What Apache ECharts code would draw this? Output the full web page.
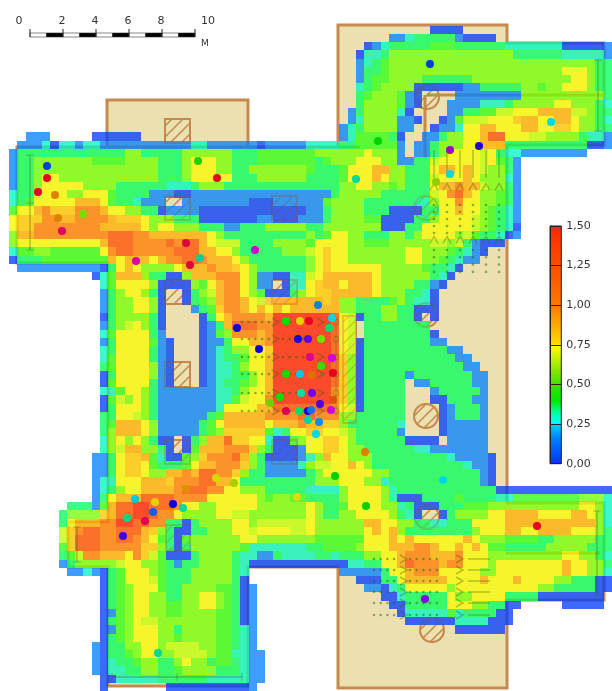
<!DOCTYPE html>
<html><head><meta charset="utf-8">
<style>html,body{margin:0;padding:0;background:#fff}#c{width:612px;height:691px}</style>
<script src="https://cdn.jsdelivr.net/npm/echarts@6/dist/echarts.min.js"></script>
</head><body><div id="c"></div>
<script>
const levelValues = {a:.02,b:.15,c:.29,d:.37,e:.47,f:.55,g:.63,h:.71,i:.8,j:.88,k:1.02,l:1.18,m:1.5};
const colorRamp = ['#0030ff','#0060ff','#00a0ff','#00ffb8','#00ff30','#40ff00','#a8ff00','#f8ff00','#ffc800','#ffa800','#ff8000','#ff6000','#ff4800','#ff3800','#ff2c00','#ff1c00'];
const legendStops = [[0,'#0030ff'],[.16,'#0080ff'],[.24,'#00c8ff'],[.26,'#00ffff'],[.33,'#00ff90'],[.4,'#00e800'],[.5,'#40e000'],[.6,'#90e800'],[.74,'#ffff00'],[.76,'#ffd800'],[1,'#ff7800'],[1.25,'#ff4c00'],[1.5,'#ff2800']];
const legendTicks = ['0,00','0,25','0,50','0,75','1,00','1,25','1,50'];
const scaleLabels = [[19,'0'],[62,'2'],[95,'4'],[128,'6'],[161,'8'],[208,'10']];
// one row per 8.28px strip of the floor: "col:" jumps to a column, letter+count is a run of that level
const heatRows = [
"51: a4",
"46: b2 c1 d5 b1 a4",
"43: a1 b1 c1 d5 e3 d6 c7 a5 b1",
"42: a1 c2 d1 f15 d6 c5 b1",
"42: b1 c1 d1 e1 f25 d2",
"42: b1 d2 e1 f21 h3 f1 d2",
"42: b1 d1 e2 f4 d6 f12 h2 f1 d2",
"42: c1 d1 e1 f3 f1 a6 b2 d5 f2 e1 f2 h3 f1 d2",
"42: d1 e1 f3 e1 b1 a1 54: b8 f10 d1",
"42: d1 f4 e1 b1 a1 53: b4 c3 d1 f5 h2 f3 d1 c1",
"41: b1 d1 f4 c1 a1 53: b2 d2 e2 g2 h3 j4 g2 f1 d2",
"41: b1 c1 f4 b2 a1 52: a1 b1 e1 g3 h3 i1 j2 h2 j2 h1 f2 d1 c1",
"40: b1 c1 d1 f4 b2 51: a1 b2 c1 h2 j2 h3 j2 h2 i2 h1 f2 d2",
"2: b3 10: a6 40: b1 c1 e4 d1 a1 50: b2 d1 f2 h2 j1 l2 h3 g2 f4 d1 c2 b1",
"1: b3 c1 a1 c2 b1 c2 b11 c2 b6 a1 b5 c4 d2 e5 b1 49: b2 d1 f3 h2 j3 d10 a2 b1",
"0: b1 d13 f2 d5 f6 d3 e7 f6 h1 f3 b1 49: b2 d1 f1 h4 g1 h1 d1 c2 b8",
"0: b1 d2 f7 e4 f4 d3 f1 h3 f2 d3 e7 d1 e1 f3 h3 f2 b2 d2 g1 h5 g1 h1 e1 d1 b1",
"0: b1 d2 f15 d3 f1 h3 f2 d2 f7 e1 d3 e1 h3 j2 f2 d3 h1 j2 h1 j1 h1 g1 f2 d1 b1",
"0: b1 d2 f1 h2 f12 d3 f1 h5 d3 f6 d4 e1 h3 j1 h1 f2 d3 g1 h3 j1 h1 f3 c1 b1",
"0: b1 d2 f1 h5 f4 d6 c3 d1 f3 d14 f2 h2 f2 e1 f1 d3 h1 j2 k1 j2 g1 f2 d1 b1",
"0: c1 d2 g1 h3 f2 h3 e1 d4 b3 a2 b17 d1 f5 d6 g1 h1 k1 l1 j1 h1 f2 e1 d1 b1",
"0: c1 d1 e1 h5 j3 h1 e1 d2 c1 b3 21: b8 a3 b6 e1 f4 d6 c2 f1 h2 k1 h2 f2 e1 d1 b1",
"0: e1 h2 j1 k1 i3 k3 j1 h2 f2 d2 a1 b4 a13 b2 d1 f4 d3 a4 d2 h2 j1 h2 f1 e1 d1 c1 b1",
"0: h1 i3 k2 j2 k4 j1 i3 h1 f3 d3 a7 b2 a3 b3 d1 f4 e2 a4 d2 f1 h4 g1 f1 e1 d1 c1 b1",
"0: h1 i2 k8 j5 h1 f1 h2 f3 d3 b2 d3 f5 d2 f7 a3 d2 h6 g1 f1 e1 d1 c1 a1",
"0: f1 j2 k9 l3 k2 j7 h1 f1 d10 f1 d1 e1 h2 f2 d3 f2 d1 f1 h4 f1 g1 e1 d2 c1 a1 b1",
"0: f1 h10 j1 l3 k4 l1 k1 l2 j1 h1 g3 d4 f4 e1 h4 f2 e3 f5 g2 f1 g1 d1 b1 a3",
"0: c1 e2 f2 e6 h1 k1 l2 k5 l3 j2 h2 f1 d5 f3 g1 h1 i1 h2 f7 h2 f3 e1 d1 c1 b1 a1",
"0: a1 d3 e8 j1 h1 j3 h1 j1 k2 l2 k1 j3 h1 f1 d7 f1 h1 i1 h2 f7 h2 f2 e1 d1 c1 b2",
"1: b10 a1 d1 h1 j1 h1 f4 h1 j3 k1 j2 i1 h1 f1 d6 f1 h1 i1 h6 f5 e1 d2 c1 a1",
"10: a1 c1 e1 j3 f1 d2 a2 f1 j3 k3 h1 f1 b2 a2 c2 g1 h1 j6 h1 f6 d1 c1 a1",
"11: c1 e1 h4 f1 a4 f1 e1 h1 j1 k2 h1 f1 b2 33: a1 c2 h1 i1 j2 h1 j3 h1 f4 d2 b1 a1",
"11: b1 d1 f1 h2 f1 d1 a1 21: a1 d1 f1 g1 j1 k2 h1 f1 e1 a3 d1 f1 h1 i2 j5 h1 f3 d2 c1 a1",
"11: b1 d1 f2 h2 f1 a1 21: a1 d1 e1 f1 j1 k2 j1 h1 g1 i1 j3 j3 i1 j1 f2 d4 e1 f1 d1 c2 a1",
"11: b1 d1 f2 h2 f1 a1 22: b1 d1 e1 i1 k2 j1 h1 j1 h1 j1 h1 j6 f2 d3 f2 d2 a3",
"11: a1 d1 f4 d1 a1 23: a1 d1 h1 j1 k4 j1 m7 l1 h1 g1 a1 d2 f2 d2 a1 51: a1",
"11: b1 d1 f1 g1 h1 f1 d1 a1 23: a1 b1 d1 j1 l3 k2 m7 l1 h1 g1 43: d8",
"11: c1 e1 h4 d1 b1 23: a1 b1 e1 f1 k3 j1 k1 m7 l1 h1 g1 43: d8 a1",
"11: b1 d1 h4 e1 b1 a1 23: a1 b2 d1 h2 j2 k1 m7 l1 h1 g1 a1 d8 b2",
"11: c1 d1 h4 d1 b1 a1 23: a1 b1 c1 d1 f2 h2 i1 m7 l1 h1 g1 a1 d10 b2",
"11: c1 e1 h4 d1 b1 a1 23: a1 b1 c1 d2 e1 h2 j1 m7 l1 i1 f1 a1 d11 b2",
"11: d1 e1 h4 f1 b1 a1 23: a1 b1 c2 d1 f1 h2 j1 m7 l1 i1 f1 a1 d12 b2",
"11: a1 d1 h4 f1 b1 a1 23: a1 b1 c2 d2 f1 h1 j1 m7 l1 i1 f1 a1 d5 b1 d7 b2",
"11: a1 e1 h4 d1 b1 a1 23: a1 b1 c1 d2 e1 f1 h1 j1 m7 l1 i1 f1 a1 d5 49: b2 d5 b2",
"11: c2 e1 h2 f1 d1 b7 c2 d1 f1 h2 j1 m7 k1 i1 f1 a1 d5 51: b1 d5 b1",
"11: a1 e1 g1 f1 h1 f1 d1 b7 c2 e1 g1 h2 k1 m7 k1 i1 f1 a1 d5 51: a2 d3 b2",
"11: a1 d1 h3 f1 d1 b7 c1 h4 j2 l7 k1 h1 g1 a1 d5 52: a1 b1 d3 b1",
"11: d2 h2 g1 f1 d1 b6 d1 e1 j5 k4 l2 k3 f2 d6 52: a1 b1 d3 b1",
"11: d1 e1 j3 h1 f1 b5 d1 e1 h1 j5 h1 j3 k1 j2 i2 f1 d6 c1 52: a1 b5",
"11: d1 f1 j3 h1 f1 b5 d1 e1 f1 i5 e1 c1 d1 h2 i2 h2 g1 f1 d5 b1 52: a1 b5",
"11: c1 f1 h1 f1 h1 f1 d1 a2 21: a1 d1 f1 j2 l1 i2 h2 c1 a2 e1 f1 h2 i2 h1 f1 d6 a4 53: b5",
"11: c1 f1 g1 j2 f2 d1 a1 21: a1 e1 j3 k3 i1 f1 d1 a3 b1 h2 i2 h1 f2 d6 c2 b7",
"10: b2 d1 h1 i2 j1 e1 c1 a2 e1 f1 i1 k3 l1 j1 f1 d1 a4 b1 c1 f1 j1 h2 f3 d9 c1 b4 a1",
"10: b2 d1 h1 i2 h1 e1 d3 e1 h1 j2 k3 i1 f1 d1 b4 c1 f1 g2 h2 j1 h1 f1 d11 c1 b2 a1",
"10: b2 d1 h1 i2 h1 f2 j2 k1 j1 l2 k2 i1 f1 d2 b5 d1 f1 h6 f2 d11 b1 a1",
"10: b1 c2 h3 j3 i1 k3 l2 j2 h1 d8 d1 f3 h3 f2 c1 d11 b1 a1",
"10: b1 c1 d1 f1 h2 j4 k1 l3 k2 h2 f3 d5 c4 f1 h4 f1 c1 d12 a14",
"10: b1 d1 h1 j3 l4 k4 h6 f1 e1 f2 e2 d4 f1 h4 f1 c1 a3 d4 e1 d4 c2 e8 f3 c1",
"7: d3 b1 e1 j1 l2 m2 l3 k1 h2 f2 h5 f6 h1 f1 d2 e1 h4 f2 c1 d1 a3 d3 e3 f11 h2 f1 c1",
"6: d1 f4 i1 j1 l2 m2 l1 k2 h1 f4 h2 g2 f7 h1 f1 d2 f2 h4 f1 d1 c1 a1 52: a1 d1 f4 h2 j4 h4 j2 h1 f1 c1",
"6: d1 h1 j3 k2 m2 l2 k2 d2 a1 d1 f4 h2 f1 g6 h1 f6 j2 h2 f2 d2 c2 d3 h4 j11 f1 c1",
"6: g1 i1 k1 l2 k2 l3 j1 i1 f1 d1 a2 d2 f3 h2 g1 h4 g2 h1 f6 h1 j1 h1 j1 f1 d8 f1 h3 j2 h2 j4 h3 f1 d1",
"6: g1 i1 l3 k2 l2 k1 j1 h1 e1 d1 a1 e1 f6 h2 f7 e6 h3 j1 h1 j1 h6 j1 h1 f3 e4 d2 f5 d2",
"6: e1 i1 l3 k5 i2 f1 d1 a1 d1 f6 e1 c7 d2 e4 f1 h3 j3 k2 j1 h2 j1 h1 j1 h1 e2 d5 f5 d3",
"6: d1 e1 g1 k2 j3 h1 k1 i1 g1 e1 a3 d1 f4 d1 c2 b2 d1 c4 d2 c1 d3 f2 h2 j1 k3 j3 k1 h3 f9 h2 f2 d1 c1",
"6: b1 d1 f5 g1 h2 f2 e1 d1 b1 d2 f4 d1 c1 a12 c2 d2 h2 j1 l1 k3 j1 k2 h3 f1 h8 j1 h2 f2 d1",
"7: b2 c1 b1 a1 d1 e1 h3 f1 e1 d3 f5 d1 c1 40: b5 d1 h2 j1 k3 h5 f2 h8 j1 h2 f2 c1",
"11: a1 d1 e1 h3 g1 e1 d3 f5 d1 a1 42: a3 d2 h1 j5 h4 j1 h3 j1 h4 f2 d3 a2",
"11: a1 d1 e1 f1 h3 e1 d2 f4 e2 d1 a1 b1 43: b2 a1 c1 d1 h5 f1 h10 f2 d5 a2",
"11: a1 d1 e1 f1 h2 f2 d2 f2 h2 f1 e1 d1 a1 b1 45: a2 c1 d5 h1 f2 h4 d4 a8",
"11: a1 d1 e1 f1 h2 f2 e2 f2 h2 f1 e1 d1 a1 b1 46: a2 d5 h3 f2 d2 a2 67: a5",
"11: a1 b1 e1 f1 h2 f2 e2 f4 e2 d1 a1 b1 47: a1 c5 e1 c1 d4 a2",
"11: a1 d1 e1 f1 h1 g2 f7 e2 d1 a1 b1 48: a6 c4 a3",
"11: a1 b1 e1 f1 h3 f2 d1 f4 e2 d1 c1 b1 54: a6",
"11: a1 d1 e1 f1 h3 f2 e1 f4 e2 d1 c1 b1",
"10: b1 a1 d2 f2 h2 f1 g4 f2 e2 d1 c1 b1",
"10: b1 a1 d2 e1 f1 h2 f2 g4 f1 e2 c2 b2",
"10: b1 a1 c1 d2 e1 f2 d2 f1 h1 f2 d1 e2 d1 c1 b2",
"10: b1 a1 c2 d2 f2 d2 e1 f4 d3 c1 b2",
"11: a2 c5 d6 c5 b2",
"11: a1 19: a10 b1"
];
const floorOutline = [[17,147],[107,147],[107,100],[248,100],[248,147],[338,147],[338,25],[507,25],[507,43],[604,43],[604,145],[507,145],[507,503],[604,503],[604,600],[507,600],[507,688],[338,688],[338,567],[248,567],[248,686],[108,686],[108,567],[68,567],[68,522],[108,522],[108,263],[17,263]];
const innerWalls = [[[107,147],[248,147]],[[427,95],[604,95]],[[425,95],[425,158]],[[506,553],[600,553]],[[338,147],[360,147]]];
const hatchSquares = [[165,119,190,143],[165,196,190,220],[272,196,297,220],[165,280,190,304],[165,362,190,387],[165,440,190,464],[272,280,297,304],[272,440,297,464],[166,525,190,550],[343,316,356,423]];
const hatchCircles = [[427,97,12],[426,315,12],[426,416,12],[432,630,12],[427,517,12],[426,208,12]];
const centerStairY = [322,339,357,374,393,411];
const topStairX = [434,447,460,473,486,499];
const bottomStairY = [559,570,581,592,603,615];
const brackets = [[[30,155],[30,250]],[[598,60],[598,131]],[[597,511],[597,595]],[[77,527],[77,562]],[[112,677],[242,677]]];
const points = [
[47,166,'#0040e0'],[47,178,'#e80020'],[38,192,'#e80020'],[55,195,'#e08000'],[58,218,'#e08000'],[83,214,'#70e000'],[62,231,'#e00060'],
[198,161,'#20d000'],[217,178,'#e80020'],[430,64,'#0040d0'],[378,141,'#00d000'],[450,150,'#a000c0'],[479,146,'#2000d0'],[551,122,'#00d8e0'],[356,179,'#00d8a0'],[450,174,'#00d8e0'],[436,182,'#90d000'],
[186,243,'#e00040'],[136,261,'#e000a0'],[190,265,'#e00040'],[200,258,'#00d090'],[255,250,'#d000d0'],[237,328,'#0000e0'],[259,349,'#1000e0'],
[318,305,'#1080e0'],[332,318,'#00d8e8'],[329,328,'#00d870'],[286,321,'#00e000'],[300,321,'#e8d000'],[309,321,'#e80020'],[298,339,'#1000e0'],[308,339,'#6000e0'],[321,339,'#70e000'],
[310,357,'#e00090'],[332,358,'#d000e0'],[321,366,'#30e000'],[286,374,'#00e000'],[300,374,'#00c8e0'],[312,375,'#e07000'],[333,373,'#e80020'],[301,393,'#00e0a0'],[312,393,'#7000e0'],
[280,397,'#00e000'],[270,403,'#70d000'],[333,400,'#e05000'],[320,404,'#5000e0'],[331,410,'#d000e0'],[286,411,'#e00050'],[299,411,'#00e060'],[308,411,'#1000e0'],[311,410,'#1070f0'],
[308,420,'#00d8a0'],[319,422,'#0090f0'],[316,434,'#00d8e0'],[365,452,'#e08000'],[335,476,'#00d000'],[366,506,'#00d000'],[443,480,'#00d8e0'],[537,526,'#e80020'],[425,599,'#8000e0'],
[135,499,'#00c8e0'],[155,502,'#e8d000'],[173,504,'#0000d0'],[183,508,'#00d8a0'],[153,512,'#1060e0'],[127,518,'#00d880'],[145,521,'#e00050'],[123,536,'#4000e0'],[216,478,'#d8d800'],[234,483,'#a8d000'],[186,489,'#e09000'],[297,497,'#e8d800'],[158,653,'#00d890']
];

function parseHeat(){
  const out=[];
  heatRows.forEach((row,r)=>{
    let c=0;
    row.split(' ').forEach(t=>{
      if(t.endsWith(':')){c=+t.slice(0,-1);return;}
      const v=levelValues[t[0]], n=+t.slice(1);
      for(let k=0;k<n;k++){ if(c<73) out.push([c,r,v]); c++; }
    });
  });
  return out;
}
const BROWN='#c68a50', BEIGE='#ede0b0', OVER='rgba(60,90,10,0.34)', DOTC='rgba(20,100,20,0.6)';
function hatchLines(x0,y0,x1,y1,inside){
  const segs=[];
  for(let s=Math.ceil((x0+y0)/11)*11+5;s<x1+y1;s+=11){
    let pts=[];
    for(let x=x0;x<=x1;x+=0.5){ const y=s-x; if(y>=y0&&y<=y1&&inside(x,y)) pts.push([x,y]); }
    if(pts.length>1) segs.push([pts[0],pts[pts.length-1]]);
  }
  return segs;
}
function hatchShape(api,d,alpha,round){
  const kids=[];
  const ln=(a,b)=>{const p=api.coord(a),q=api.coord(b);kids.push({type:'line',shape:{x1:p[0],y1:p[1],x2:q[0],y2:q[1]},style:{stroke:BROWN,lineWidth:1.5,opacity:alpha}});};
  if(round){
    const [cx,cy,r]=d; const c=api.coord([cx,cy]);
    kids.push({type:'circle',shape:{cx:c[0],cy:c[1],r},style:{fill:'none',stroke:BROWN,lineWidth:2,opacity:alpha}});
    hatchLines(cx-r,cy-r,cx+r,cy+r,(x,y)=>(x-cx)*(x-cx)+(y-cy)*(y-cy)<=r*r).forEach(s=>ln(s[0],s[1]));
  } else {
    const [x0,y0,x1,y1]=d; const p=api.coord([x0,y0]),q=api.coord([x1,y1]);
    kids.push({type:'rect',shape:{x:p[0],y:p[1],width:q[0]-p[0],height:q[1]-p[1]},style:{fill:'none',stroke:BROWN,lineWidth:2,opacity:alpha}});
    hatchLines(x0,y0,x1,y1,()=>true).forEach(s=>ln(s[0],s[1]));
  }
  return {type:'group',children:kids};
}
function overlayKids(api){
  const kids=[];
  const P=a=>api.coord(a);
  const poly=(a,w)=>kids.push({type:'polyline',shape:{points:a.map(P)},style:{fill:'none',stroke:OVER,lineWidth:w||1.5}});
  const chevR=(x,y)=>poly([[x,y-4],[x+7,y],[x,y+4]]);
  const chevU=(x,y)=>poly([[x-4,y+3.5],[x,y-3.5],[x+4,y+3.5]]);
  centerStairY.forEach(y=>{chevR(272,y);chevR(317,y);
    const c=P([336,y]);kids.push({type:'circle',shape:{cx:c[0],cy:c[1],r:3},style:{fill:'none',stroke:OVER,lineWidth:1}});});
  poly([[336,318],[336,415]],1);
  topStairX.forEach(x=>{poly([[x,150],[x,178]],1.5);chevU(x,187);chevU(x,240);});
  bottomStairY.forEach(y=>{chevR(456,y);chevR(400,y);poly([[468,y],[490,y]],1.5);});
  brackets.forEach(b=>{
    poly(b,1.5);
    const vert=b[0][0]===b[1][0];
    b.forEach(e=>poly(vert?[[e[0]-4,e[1]],[e[0]+4,e[1]]]:[[e[0],e[1]-4],[e[0],e[1]+4]],1));
  });
  poly([[26,203],[34,203]],1);poly([[177,673],[177,681]],1);
  return kids;
}
function stairDots(){
  const out=[];
  centerStairY.forEach(y=>{for(let x=242;x<=270;x+=6.7)out.push([x,y]);for(let x=283;x<=312;x+=6.7)out.push([x,y]);});
  topStairX.forEach(x=>{for(let y=205;y<=233;y+=7)out.push([x,y]);for(let y=250;y<=272;y+=7.3)out.push([x,y]);});
  bottomStairY.forEach(y=>{for(let x=374;x<=396;x+=6.7)out.push([x,y]);for(let x=410;x<=439;x+=6.7)out.push([x,y]);});
  return out;
}
const pixelAxisX=i=>({type:'value',gridIndex:i,min:0,max:612,show:false});
const pixelAxisY=i=>({type:'value',gridIndex:i,min:0,max:691,inverse:true,show:false});

const chart=echarts.init(document.getElementById('c'),null,{renderer:'canvas'});
chart.setOption({
  animation:false,
  backgroundColor:'#fff',
  grid:[
    {left:0,top:0,width:612,height:691},
    {left:9,top:25.7,width:73*8.28,height:81*8.28},
    {left:550,top:226,width:11.3,height:237.7}
  ],
  xAxis:[pixelAxisX(0),{type:'value',gridIndex:1,min:0,max:73,show:false},{type:'value',gridIndex:2,min:0,max:1,show:false}],
  yAxis:[pixelAxisY(0),{type:'value',gridIndex:1,min:0,max:81,inverse:true,show:false},
    {type:'value',gridIndex:2,position:'right',min:0,max:1.5,interval:.25,z:6,
     axisLine:{show:true,lineStyle:{color:'#222'}},axisTick:{show:true,length:7,lineStyle:{color:'#222'}},
     splitLine:{show:true,lineStyle:{color:'#222',width:1}},
     axisLabel:{margin:5,fontFamily:'DejaVu Sans',fontSize:11,color:'#333',formatter:v=>legendTicks[Math.round(v/.25)]}}],
  visualMap:{show:false,type:'continuous',seriesIndex:1,dimension:2,min:0,max:1.5,inRange:{color:colorRamp}},
  series:[
    {type:'custom',xAxisIndex:0,yAxisIndex:0,z:1,silent:true,clip:false,data:[[0,0]],
     renderItem:(p,api)=>{
       const kids=[{type:'polygon',shape:{points:floorOutline.map(a=>api.coord(a))},style:{fill:BEIGE,stroke:BROWN,lineWidth:3}}];
       innerWalls.forEach(w=>kids.push({type:'polyline',shape:{points:w.map(a=>api.coord(a))},style:{fill:'none',stroke:BROWN,lineWidth:3}}));
       hatchSquares.forEach(d=>kids.push(hatchShape(api,d,1,false)));
       hatchCircles.forEach(d=>kids.push(hatchShape(api,d,1,true)));
       return {type:'group',children:kids};
     }},
    {type:'custom',name:'heat',xAxisIndex:1,yAxisIndex:1,z:2,silent:true,clip:false,progressive:0,
     encode:{x:0,y:1},data:parseHeat(),
     renderItem:(p,api)=>{
       const a=api.coord([api.value(0),api.value(1)]),b=api.coord([api.value(0)+1,api.value(1)+1]);
       const x=Math.round(a[0]),y=Math.round(a[1]);
       return {type:'rect',shape:{x,y,width:Math.round(b[0])-x,height:Math.round(b[1])-y},style:{fill:api.visual('color'),opacity:.76}};
     }},
    {type:'custom',xAxisIndex:0,yAxisIndex:0,z:3,silent:true,clip:false,data:[[0,0]],
     renderItem:(p,api)=>{
       const kids=overlayKids(api);
       hatchSquares.forEach(d=>kids.push(hatchShape(api,d,.22,false)));
       hatchCircles.forEach(d=>kids.push(hatchShape(api,d,.22,true)));
       return {type:'group',children:kids};
     }},
    {type:'scatter',xAxisIndex:0,yAxisIndex:0,z:3,silent:true,symbolSize:2.6,itemStyle:{color:DOTC},data:stairDots()},
    {type:'scatter',xAxisIndex:0,yAxisIndex:0,z:5,silent:true,symbolSize:8,
     data:points.map(p=>({value:[p[0],p[1]],itemStyle:{color:p[2],opacity:1}}))},
    {type:'custom',xAxisIndex:2,yAxisIndex:2,z:4,silent:true,clip:false,data:[[0,0]],
     renderItem:(p,api)=>{
       const a=api.coord([0,1.5]),b=api.coord([1,0]);
       return {type:'rect',shape:{x:a[0],y:a[1],width:b[0]-a[0],height:b[1]-a[1]},
         style:{stroke:'#222',lineWidth:1,fill:{type:'linear',x:0,y:1,x2:0,y2:0,colorStops:legendStops.map(s=>({offset:s[0]/1.5,color:s[1]}))}}};
     }},
    {type:'custom',xAxisIndex:0,yAxisIndex:0,z:4,silent:true,clip:false,data:[[0,0]],
     renderItem:(p,api)=>{
       const kids=[];
       const P=a=>api.coord(a);
       for(let i=0;i<10;i++){
         const a=P([30+i*16.5,33]),b=P([30+(i+1)*16.5,37]);
         kids.push({type:'rect',shape:{x:a[0],y:a[1],width:b[0]-a[0],height:b[1]-a[1]},style:{fill:i%2?'#000':'#fff',stroke:'#333',lineWidth:.6}});
       }
       for(let i=0;i<=5;i++){
         const a=P([30+i*33,29]),b=P([30+i*33,37]);
         kids.push({type:'line',shape:{x1:a[0],y1:a[1],x2:b[0],y2:b[1]},style:{stroke:'#222',lineWidth:1}});
       }
       scaleLabels.forEach(s=>{const c=P([s[0],21]);kids.push({type:'text',style:{x:c[0],y:c[1],text:s[1],font:'11px "DejaVu Sans"',fill:'#333',align:'center',verticalAlign:'middle'}});});
       const m=P([205,44]);
       kids.push({type:'text',style:{x:m[0],y:m[1],text:'M',font:'9px "DejaVu Sans"',fill:'#333',align:'center',verticalAlign:'middle'}});
       return {type:'group',children:kids};
     }}
  ]
});
</script></body></html>
